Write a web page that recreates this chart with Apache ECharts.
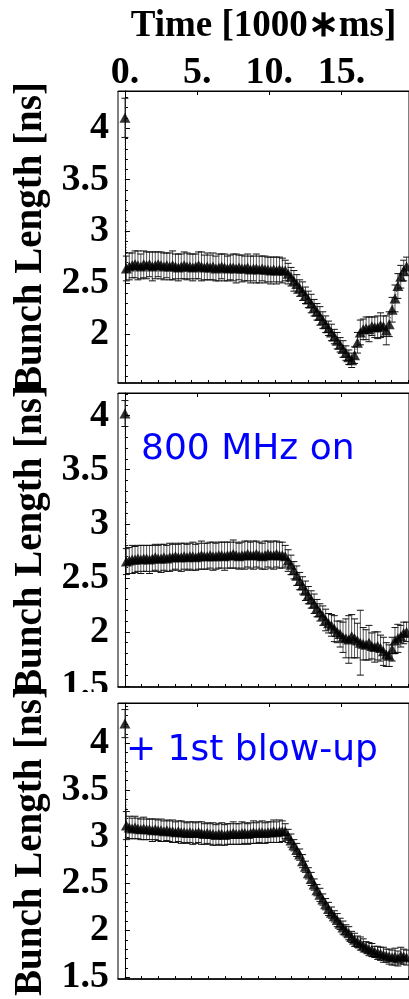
<!DOCTYPE html>
<html><head><meta charset="utf-8">
<script src="https://cdn.jsdelivr.net/npm/echarts@6/dist/echarts.min.js"></script>
<style>html,body{margin:0;padding:0;background:#fff}#c{width:409px;height:999px}</style>
</head><body><div id="c"></div>
<script>
// ---- data ----
const times = [0, 0.1, 0.3, 0.5, 0.7, 0.9, 1.1, 1.3, 1.5, 1.7, 1.9, 2.1, 2.3, 2.5, 2.7, 2.9, 3.1, 3.3, 3.5, 3.7, 3.9,
  4.1, 4.3, 4.5, 4.7, 4.9, 5.1, 5.3, 5.5, 5.7, 5.9, 6.1, 6.3, 6.5, 6.7, 6.9, 7.1, 7.3, 7.5, 7.7, 7.9,
  8.1, 8.3, 8.5, 8.7, 8.9, 9.1, 9.3, 9.5, 9.7, 9.9, 10.1, 10.3, 10.5, 10.7, 10.9,
  11.1, 11.3, 11.5, 11.7, 11.9, 12.1, 12.3, 12.5, 12.7, 12.9, 13.1, 13.3, 13.5, 13.7, 13.9,
  14.1, 14.3, 14.5, 14.7, 14.9, 15.1, 15.3, 15.5, 15.7, 15.9, 16.1, 16.3, 16.5, 16.7, 16.9,
  17.1, 17.3, 17.5, 17.7, 17.9, 18.1, 18.3, 18.5, 18.7, 18.9, 19.1, 19.3, 19.5];

const p1Values = [4.10, 2.64,
  2.66, 2.67, 2.68, 2.67, 2.66, 2.68, 2.67, 2.68, 2.66, 2.67,
  2.68, 2.67, 2.66, 2.67, 2.66, 2.67, 2.66, 2.65, 2.66, 2.67,
  2.66, 2.66, 2.65, 2.66, 2.67, 2.66, 2.65, 2.66, 2.65, 2.66,
  2.64, 2.65, 2.66, 2.65, 2.64, 2.65, 2.65, 2.64, 2.65, 2.64,
  2.64, 2.65, 2.63, 2.64, 2.64, 2.63, 2.64, 2.63, 2.63, 2.62,
  2.63, 2.62, 2.63, 2.62,
  2.62, 2.59, 2.56, 2.52, 2.49, 2.45, 2.42, 2.38, 2.34, 2.30,
  2.26, 2.22, 2.18, 2.14, 2.10, 2.06, 2.02, 1.98, 1.94, 1.90,
  1.86, 1.82, 1.78, 1.75, 1.80, 1.92, 2.02, 2.05, 2.06, 2.05,
  2.08, 2.07, 2.07, 2.09, 2.08, 2.04, 2.10, 2.24, 2.35, 2.47,
  2.56, 2.62, 2.66];
const p1Errors = [0.19, 0.12,
  0.13, 0.12, 0.13, 0.14, 0.12, 0.13, 0.13, 0.12, 0.14, 0.13,
  0.12, 0.13, 0.13, 0.12, 0.13, 0.14, 0.12, 0.13, 0.12, 0.13,
  0.13, 0.12, 0.13, 0.12, 0.13, 0.14, 0.12, 0.13, 0.12, 0.13,
  0.12, 0.13, 0.12, 0.13, 0.12, 0.12, 0.13, 0.14, 0.12, 0.13,
  0.12, 0.13, 0.13, 0.12, 0.14, 0.13, 0.12, 0.13, 0.12, 0.13,
  0.12, 0.13, 0.12, 0.12,
  0.10, 0.10, 0.09, 0.10, 0.09, 0.08, 0.09, 0.08, 0.08, 0.09,
  0.08, 0.08, 0.09, 0.08, 0.08, 0.07, 0.08, 0.07, 0.08, 0.07,
  0.08, 0.07, 0.07, 0.07, 0.08, 0.10, 0.12, 0.10, 0.11, 0.12,
  0.09, 0.10, 0.11, 0.12, 0.10, 0.14, 0.12, 0.12, 0.13, 0.12,
  0.11, 0.10, 0.09];

const p2Values = [4.02, 2.65,
  2.66, 2.67, 2.67, 2.68, 2.67, 2.68, 2.68, 2.67, 2.68, 2.69,
  2.68, 2.68, 2.69, 2.68, 2.69, 2.69, 2.70, 2.69, 2.69, 2.70,
  2.69, 2.70, 2.70, 2.69, 2.70, 2.71, 2.70, 2.70, 2.71, 2.70,
  2.70, 2.71, 2.71, 2.70, 2.71, 2.71, 2.72, 2.71, 2.70, 2.71,
  2.71, 2.72, 2.71, 2.71, 2.72, 2.71, 2.70, 2.71, 2.72, 2.71,
  2.71, 2.72, 2.71, 2.71,
  2.70, 2.66, 2.62, 2.57, 2.52, 2.47, 2.43, 2.38, 2.34, 2.30,
  2.26, 2.22, 2.18, 2.15, 2.11, 2.08, 2.06, 2.03, 2.00, 1.98,
  1.95, 1.94, 1.93, 1.96, 1.94, 1.92, 1.90, 1.89, 1.88, 1.90,
  1.87, 1.86, 1.87, 1.85, 1.82, 1.79, 1.78, 1.84, 1.92, 1.94,
  1.96, 1.99, 2.00];
const p2Errors = [0.12, 0.12,
  0.12, 0.13, 0.12, 0.12, 0.13, 0.12, 0.12, 0.13, 0.12, 0.12,
  0.12, 0.13, 0.12, 0.12, 0.13, 0.12, 0.12, 0.12, 0.13, 0.12,
  0.12, 0.12, 0.13, 0.12, 0.12, 0.13, 0.12, 0.12, 0.12, 0.13,
  0.12, 0.12, 0.12, 0.13, 0.12, 0.12, 0.13, 0.12, 0.12, 0.12,
  0.13, 0.12, 0.12, 0.13, 0.12, 0.12, 0.12, 0.13, 0.12, 0.12,
  0.13, 0.12, 0.12, 0.12,
  0.10, 0.10, 0.09, 0.08, 0.09, 0.08, 0.08, 0.09, 0.08, 0.08,
  0.09, 0.08, 0.08, 0.09, 0.10, 0.09, 0.10, 0.12, 0.10, 0.12,
  0.14, 0.18, 0.22, 0.20, 0.18, 0.16, 0.30, 0.15, 0.14, 0.16,
  0.12, 0.14, 0.13, 0.12, 0.13, 0.11, 0.10, 0.11, 0.12, 0.13,
  0.10, 0.10, 0.09];

const p3Values = [4.21, 3.12,
  3.10, 3.09, 3.10, 3.09, 3.08, 3.09, 3.08, 3.08, 3.07, 3.08,
  3.07, 3.07, 3.06, 3.07, 3.06, 3.06, 3.05, 3.06, 3.05, 3.05,
  3.04, 3.05, 3.04, 3.04, 3.05, 3.04, 3.03, 3.04, 3.03, 3.03,
  3.02, 3.03, 3.03, 3.02, 3.03, 3.03, 3.04, 3.03, 3.03, 3.04,
  3.04, 3.03, 3.04, 3.05, 3.04, 3.05, 3.05, 3.04, 3.05, 3.05,
  3.06, 3.05, 3.06, 3.06,
  3.06, 3.01, 2.96, 2.91, 2.86, 2.81, 2.74, 2.68, 2.61, 2.55,
  2.49, 2.43, 2.38, 2.33, 2.28, 2.23, 2.19, 2.15, 2.11, 2.07,
  2.03, 2.00, 1.97, 1.93, 1.90, 1.88, 1.86, 1.84, 1.82, 1.80,
  1.79, 1.77, 1.76, 1.75, 1.74, 1.73, 1.72, 1.71, 1.72, 1.70,
  1.73, 1.72, 1.71];
const p3Errors = [0.15, 0.15,
  0.12, 0.11, 0.12, 0.11, 0.11, 0.12, 0.11, 0.11, 0.12, 0.11,
  0.11, 0.12, 0.11, 0.11, 0.11, 0.12, 0.11, 0.11, 0.12, 0.11,
  0.11, 0.11, 0.12, 0.11, 0.11, 0.12, 0.11, 0.11, 0.11, 0.12,
  0.11, 0.11, 0.12, 0.11, 0.11, 0.11, 0.12, 0.11, 0.11, 0.12,
  0.11, 0.11, 0.11, 0.12, 0.11, 0.11, 0.12, 0.11, 0.11, 0.11,
  0.12, 0.11, 0.12, 0.11,
  0.08, 0.07, 0.07, 0.06, 0.07, 0.06, 0.07, 0.06, 0.06, 0.07,
  0.06, 0.06, 0.07, 0.06, 0.06, 0.07, 0.06, 0.06, 0.07, 0.06,
  0.07, 0.06, 0.07, 0.06, 0.07, 0.06, 0.07, 0.07, 0.06, 0.07,
  0.07, 0.06, 0.07, 0.07, 0.08, 0.07, 0.08, 0.08, 0.09, 0.08,
  0.09, 0.08, 0.08];

const panelValues = [p1Values, p2Values, p3Values];
const panelErrors = [p1Errors, p2Errors, p3Errors];
const annotations = ['', '800 MHz on', '+ 1st blow-up'];

const xTickValues = [0, 5, 10, 15];
const xBottomTickValues = [0, 1.15, 2.31, 3.46, 4.62, 5.77, 6.92, 8.08, 9.23, 10.38, 11.54, 12.69, 13.85, 15, 16.15, 17.31, 18.46, 19.62];
const yTickValues = [1.5, 2, 2.5, 3, 3.5, 4];
const yMinorTickValues = [1.5, 1.6, 1.7, 1.8, 1.9, 2.0, 2.1, 2.2, 2.3, 2.4, 2.5, 2.6, 2.7, 2.8, 2.9, 3.0, 3.1, 3.2, 3.3, 3.4, 3.5, 3.6, 3.7, 3.8, 3.9, 4.0, 4.1, 4.2, 4.3, 4.4];
const xTitle = 'Time [1000\u2217ms]';
const yTitle = 'Bunch Length [ns]';

// ---- layout ----
const xRange = [-0.48, 19.67];
const panels = [
  {top: 91, height: 292, yMin: 1.53, yMax: 4.36},
  {top: 393, height: 294, yMin: 1.49, yMax: 4.21},
  {top: 703, height: 293, yMin: 1.48, yMax: 4.43}
];
const serif = "'Liberation Serif', 'Times New Roman', serif";
const labelStyle = {fontFamily: serif, fontWeight: 'bold', fontSize: 38, color: '#000'};

const grid = [], xAxis = [], yAxis = [], series = [];
panels.forEach((p, i) => {
  grid.push({left: 118, width: 292, top: p.top, height: p.height, show: true, borderColor: '#000', borderWidth: 1, containLabel: false});
  xAxis.push({
    gridIndex: i, type: 'value', position: 'top', min: xRange[0], max: xRange[1],
    axisLine: {show: true, lineStyle: {color: '#000', width: 1}},
    axisTick: {show: true, inside: true, length: 4, customValues: xTickValues, lineStyle: {color: '#000'}},
    axisLabel: i === 0 ? Object.assign({show: true, margin: -1, customValues: xTickValues, formatter: v => v + '.'}, labelStyle) : {show: false},
    splitLine: {show: false},
    name: i === 0 ? xTitle : '', nameLocation: 'middle', nameGap: 46,
    nameTextStyle: {fontFamily: serif, fontWeight: 'bold', fontSize: 37, color: '#000'}
  });
  xAxis.push({
    gridIndex: i, type: 'value', position: 'bottom', min: xRange[0], max: xRange[1],
    axisLine: {show: true, lineStyle: {color: '#000', width: 1.5}},
    axisTick: {show: true, inside: true, length: 3, customValues: xBottomTickValues, lineStyle: {color: '#000'}},
    axisLabel: {show: false}, splitLine: {show: false}
  });
  yAxis.push({
    gridIndex: i, type: 'value', position: 'left', min: p.yMin, max: p.yMax,
    axisLine: {show: true, lineStyle: {color: '#000', width: 1}},
    axisTick: {show: true, inside: true, length: 5, customValues: yTickValues, lineStyle: {color: '#000'}},
    axisLabel: Object.assign({show: true, margin: 9, padding: [8, 0, 0, 0], customValues: yTickValues}, labelStyle),
    splitLine: {show: false},
    name: yTitle, nameLocation: 'middle', nameRotate: 90, nameGap: 67,
    nameTextStyle: {fontFamily: serif, fontWeight: 'bold', fontSize: 39, color: '#000'}
  });
  yAxis.push({
    gridIndex: i, type: 'value', position: 'left', min: p.yMin, max: p.yMax,
    axisLine: {show: false},
    axisTick: {show: true, inside: true, length: 3, customValues: yMinorTickValues, lineStyle: {color: '#000'}},
    axisLabel: {show: false}, splitLine: {show: false}
  });
  const data = times.map((t, k) => [t, panelValues[i][k], panelErrors[i][k]]);
  const xi = i * 2, yi = i * 2;
  series.push({
    type: 'line', xAxisIndex: xi, yAxisIndex: yi, data: data.map(d => [d[0], d[1]]),
    symbol: 'none', lineStyle: {color: '#333', width: 1, type: [1, 2]}, z: 1, silent: true
  });
  series.push({
    type: 'custom', xAxisIndex: xi, yAxisIndex: yi, data: data, z: 2, silent: true,
    encode: {x: 0, y: 1},
    renderItem: function (params, api) {
      const x = api.value(0), y = api.value(1), e = api.value(2);
      const a = api.coord([x, y + e]), b = api.coord([x, y - e]);
      const hw = 3.5;
      return {type: 'group', children: [
        {type: 'line', shape: {x1: a[0], y1: a[1], x2: b[0], y2: b[1]}, style: {stroke: '#555', lineWidth: 1}},
        {type: 'line', shape: {x1: a[0] - hw, y1: a[1], x2: a[0] + hw, y2: a[1]}, style: {stroke: '#111', lineWidth: 1}},
        {type: 'line', shape: {x1: b[0] - hw, y1: b[1], x2: b[0] + hw, y2: b[1]}, style: {stroke: '#111', lineWidth: 1}}
      ]};
    }
  });
  series.push({
    type: 'scatter', xAxisIndex: xi, yAxisIndex: yi, data: data.map(d => [d[0], d[1]]),
    symbol: 'triangle', symbolSize: [11, 10], itemStyle: {color: '#000'}, z: 3, silent: true
  });
});

const annStyle = {fontFamily: "'DejaVu Sans', sans-serif", fontSize: 36, fill: '#0000ff'};
const graphic = [
  {type: 'text', left: 141, top: 432, style: Object.assign({text: annotations[1]}, annStyle), z: 10},
  {type: 'text', left: 126, top: 733, style: Object.assign({text: annotations[2]}, annStyle), z: 10},
  {type: 'rect', left: 52, top: 692, shape: {width: 65, height: 10}, style: {fill: '#fff'}, z: 100}
];

const chart = echarts.init(document.getElementById('c'), null, {renderer: 'canvas'});
chart.setOption({animation: false, backgroundColor: '#fff', grid, xAxis, yAxis, series, graphic});
</script></body></html>
